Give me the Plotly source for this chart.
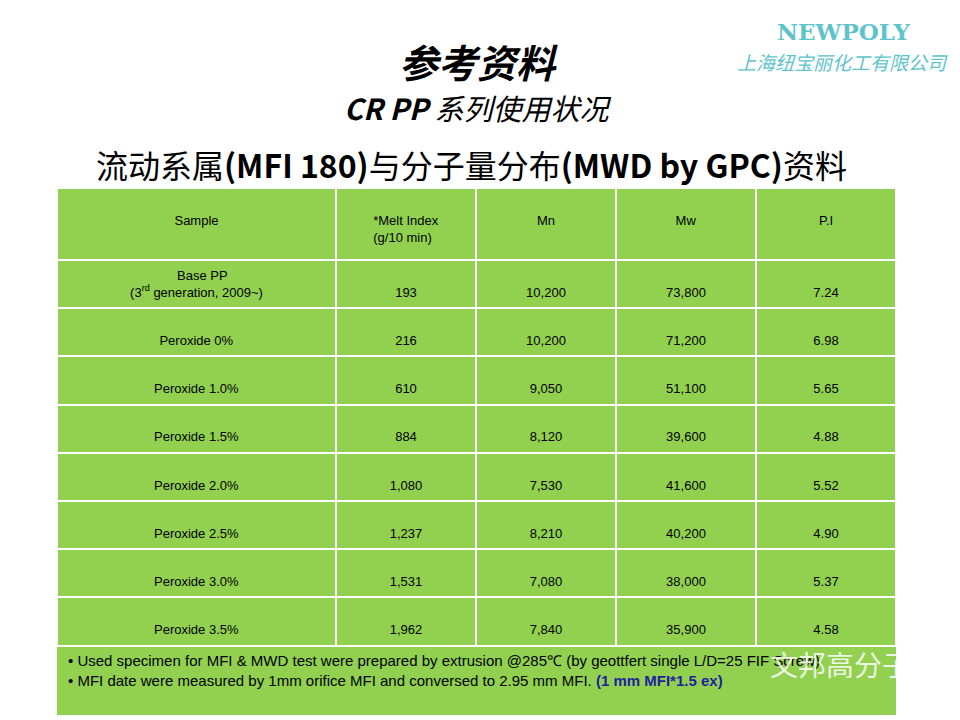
import plotly.graph_objects as go

headers = ["Sample", "*Melt Index<br>(g/10 min)", "Mn", "Mw", "P.I"]
samples = ["Base PP<br>(3<sup>rd</sup> generation, 2009~)", "Peroxide 0%", "Peroxide 1.0%",
           "Peroxide 1.5%", "Peroxide 2.0%", "Peroxide 2.5%", "Peroxide 3.0%", "Peroxide 3.5%"]
melt_index = ["193", "216", "610", "884", "1,080", "1,237", "1,531", "1,962"]
mn = ["10,200", "10,200", "9,050", "8,120", "7,530", "8,210", "7,080", "7,840"]
mw = ["73,800", "71,200", "51,100", "39,600", "41,600", "40,200", "38,000", "35,900"]
pi = ["7.24", "6.98", "5.65", "4.88", "5.52", "4.90", "5.37", "4.58"]

OFF = 8  # page renders everything shifted by the body margin
NB = "\u00a0"


# single-line cells get a leading blank line to sit roughly in the middle of the row;
# multi-line cells have their short first line nudged so both lines look centred
def pad(col):
    out = []
    for v in col:
        if "<br>" in v:
            first, rest = v.split("<br>", 1)
            extra = max(0, len(rest.replace("<sup>", "").replace("</sup>", "")) - len(first))
            out.append(NB * int(extra * 0.85) + first + "<br>" + rest)
        else:
            out.append(NB + "<br>" + v)
    return out


green = "#92D050"
fig = go.Figure(go.Table(
    domain=dict(x=[(57 - OFF) / 960, (896 - OFF) / 960], y=[0, 1 - (188 - OFF) / 720]),
    columnwidth=[279, 140, 140, 140, 140],
    header=dict(values=[NB + "<br>" + h for h in headers], fill_color=green,
                line=dict(color="white", width=2),
                font=dict(family="Liberation Sans, Arial", size=13, color="black"),
                align="center", height=72),
    cells=dict(values=[pad(samples), pad(melt_index), pad(mn), pad(mw), pad(pi)],
               fill_color=green, line=dict(color="white", width=2),
               font=dict(family="Liberation Sans, Arial", size=13, color="black"),
               align="center", height=48.2),
))

fig.add_shape(type="rect", xref="paper", yref="paper", x0=(57 - OFF) / 960, x1=(896 - OFF) / 960,
              y0=1 - (715 - OFF) / 720, y1=1 - (647 - OFF) / 720, fillcolor=green, line_width=0,
              layer="below")

notes = ("• Used specimen for MFI &amp; MWD test were prepared by extrusion @285℃ (by geottfert single L/D=25 FIF Screw)<br>"
         "• MFI date were measured by 1mm orifice MFI and conversed to 2.95 mm MFI. "
         "<b><span style='color:#1f1fa0'>(1 mm MFI*1.5 ex)</span></b>")
fig.add_annotation(text=notes, x=(66 - OFF) / 960, y=1 - (650 - OFF) / 720, xref="paper", yref="paper",
                   xanchor="left", yanchor="top", showarrow=False, align="left",
                   font=dict(family="Liberation Sans, Arial", size=15, color="black"))


def label(text, x, y, size, family="Noto Sans CJK SC", color="black"):
    fig.add_annotation(text=text, x=(x - OFF) / 960, y=1 - (y - OFF) / 720, xref="paper", yref="paper",
                       xanchor="center", yanchor="middle", showarrow=False,
                       font=dict(family=family, size=size, color=color))


label("<b><i>参考资料</i></b>", 478, 61, 39)
label("<b><i>CR PP</i></b> <i>系列使用状况</i>", 478, 107, 29)
label("流动系属<b>(MFI 180)</b>与分子量分布<b>(MWD by GPC)</b>资料", 471, 164, 32)
label("<b>NEWPOLY</b>", 843, 32, 23, "DejaVu Serif", "#5ec4cc")
label("<i>上海纽宝丽化工有限公司</i>", 842, 62, 19, color="#5ec4cc")
label("文邦高分子", 840, 664, 28, color="rgba(255,255,255,0.85)")

fig.update_layout(width=960, height=720, margin=dict(l=0, r=0, t=0, b=0),
                  paper_bgcolor="white", plot_bgcolor="white")
fig.write_html("out.html")
